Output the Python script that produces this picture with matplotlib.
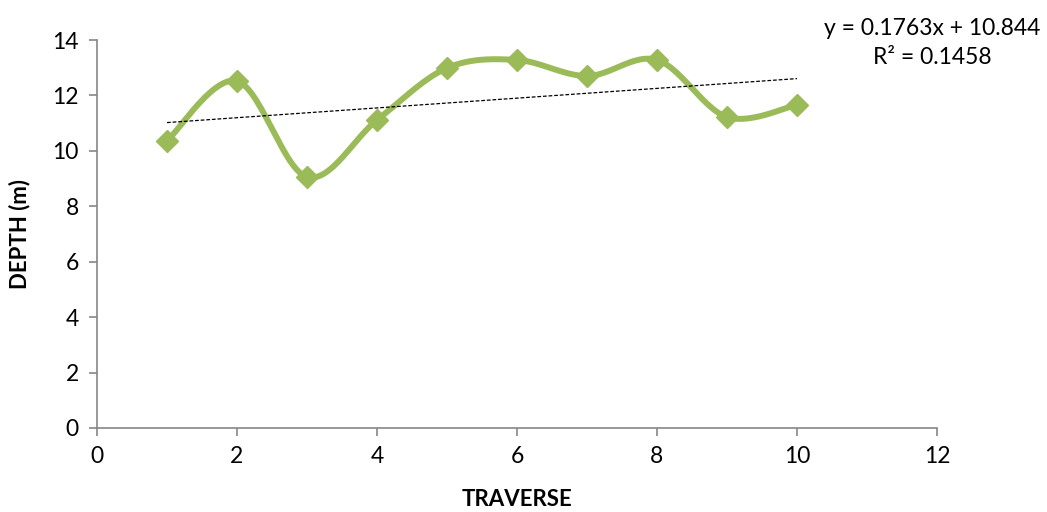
import numpy as np
import matplotlib
matplotlib.use("Agg")
from matplotlib import pyplot as plt

plt.rcParams['font.family'] = ['Lato', 'DejaVu Sans']

traverse = [1, 2, 3, 4, 5, 6, 7, 8, 9, 10]
depth = [10.36, 12.52, 9.06, 11.11, 12.99, 13.28, 12.70, 13.28, 11.22, 11.66]
trend_slope = 0.1763
trend_intercept = 10.844
r_squared = 0.1458

GREEN = "#9BBB59"
GREY = "#868686"


def smooth_curve(x, y, steps=30):
    """Bezier smoothing like the spreadsheet's smoothed line (Catmull-Rom style)."""
    p = np.column_stack((x, y)).astype(float)
    p = np.vstack((p[0], p, p[-1]))
    out = []
    t = np.linspace(0, 1, steps)[:, None]
    for i in range(1, len(p) - 2):
        p0, p1, p2, p3 = p[i - 1], p[i], p[i + 1], p[i + 2]
        c1 = p1 + (p2 - p0) / 6
        c2 = p2 - (p3 - p1) / 6
        seg = ((1 - t) ** 3) * p1 + 3 * ((1 - t) ** 2) * t * c1 + 3 * (1 - t) * t ** 2 * c2 + t ** 3 * p2
        out.append(seg if i == 1 else seg[1:])
    out = np.vstack(out)
    return out[:, 0], out[:, 1]


fig = plt.figure(figsize=(10.47, 5.12), dpi=100)
ax = fig.add_axes([97 / 1047, 84 / 512, 840 / 1047, 388 / 512])

sx, sy = smooth_curve(traverse, depth)
ax.plot(sx, sy, color=GREEN, lw=4.3, solid_capstyle="round", zorder=3)
ax.plot(traverse, depth, ls="none", marker="D", ms=11, color=GREEN, zorder=4)

tx = np.array([traverse[0], traverse[-1]])
ax.plot(tx, trend_slope * tx + trend_intercept, color="black", lw=0.9,
        ls=(0, (3, 1.5)), zorder=5)

ax.set_xlim(0, 12)
ax.set_ylim(0, 14)
ax.set_xticks(range(0, 13, 2))
ax.set_yticks(range(0, 15, 2))

for side in ("top", "right"):
    ax.spines[side].set_visible(False)
for side in ("left", "bottom"):
    ax.spines[side].set_color(GREY)
    ax.spines[side].set_linewidth(1.2)
ax.tick_params(direction="out", length=6, width=1.2, color=GREY,
               labelsize=16.5, pad=7)

ax.set_xlabel("TRAVERSE", fontsize=16, fontweight="bold", labelpad=16)
ax.set_ylabel("DEPTH (m)", fontsize=16, fontweight="bold", labelpad=16)

fig.text(932 / 1047, 1 - 43 / 512,
         f"y = {trend_slope}x + {trend_intercept}\nR² = {r_squared}",
         ha="center", va="center", fontsize=16.5, linespacing=1.45)

fig.savefig("out.png", dpi=100)
